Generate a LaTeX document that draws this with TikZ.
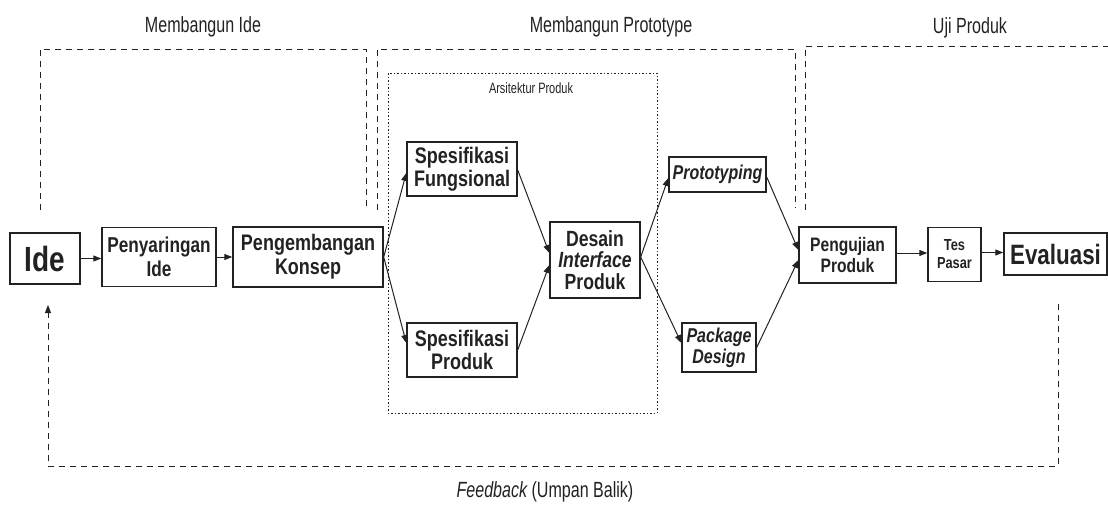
\documentclass[tikz,border=0pt]{standalone}
\usepackage{fontspec}
\setmainfont{Liberation Sans}
\newfontfamily\boxfont[FakeStretch=0.8]{Liberation Sans}
\newfontfamily\hdrfont[FakeStretch=0.73]{Liberation Sans}
\usetikzlibrary{arrows.meta}
\definecolor{ink}{HTML}{222222}
\begin{document}
\begin{tikzpicture}[x=1pt,y=-1pt,
  box/.style={draw=ink, line width=1.4pt, inner sep=0pt, align=center, text=ink},
  tip/.style={-{Triangle[length=8pt,width=6pt]}},
  conn/.style={draw=ink, line width=1pt, tip},
  dashline/.style={draw=ink, line width=0.9pt, dash pattern=on 6pt off 5pt},
  dotline/.style={draw=ink, line width=0.9pt, dash pattern=on 1.5pt off 2pt},
  hdr/.style={text=ink, font=\hdrfont\fontsize{22}{26}\selectfont, inner sep=0pt, anchor=base}]
\useasboundingbox (0,0) rectangle (1108,506);

% headers
\node[hdr] (h1) at (203,32) {Membangun Ide};
\node[hdr] (h2) at (611,32) {Membangun Prototype};
\node[hdr] (h3) at (970,33) {Uji Produk};
\node[hdr] (fbl) at (545,497) {\itshape Feedback\upshape{} (Umpan Balik)};

% dashed brackets
\draw[dashline] (40,210) -- (40,49) -- (366,49) -- (366,208);
\draw[dashline] (377,210) -- (377,49) -- (795,49) -- (795,208);
\draw[dashline] (805,210) -- (805,46) -- (1108,46);

% dotted architecture box
\draw[dotline] (388,73) rectangle (657,413);
\node[text=ink, font=\hdrfont\fontsize{15}{18}\selectfont, inner sep=0pt, anchor=base] (arl) at (531,93) {Arsitektur Produk};

% boxes
\node[box, minimum width=70pt, minimum height=51pt, font=\boxfont\bfseries\fontsize{35}{38}\selectfont] (ide) at (45,258.5) {Ide};
\node[box, minimum width=114pt, minimum height=59pt, font=\boxfont\bfseries\fontsize{21.5}{24}\selectfont] (peny) at (159,257) {Penyaringan\\Ide};
\node[box, minimum width=150pt, minimum height=60pt, font=\boxfont\bfseries\fontsize{22.5}{24}\selectfont] (peng) at (308,257) {Pengembangan\\Konsep};
\node[box, minimum width=110pt, minimum height=54pt, font=\boxfont\bfseries\fontsize{22.5}{22.5}\selectfont] (sf) at (462,169) {Spesifikasi\\Fungsional};
\node[box, minimum width=110pt, minimum height=54pt, font=\boxfont\bfseries\fontsize{22.5}{22.5}\selectfont] (sp) at (462,350) {Spesifikasi\\Produk};
\node[box, minimum width=90pt, minimum height=76pt, font=\boxfont\bfseries\fontsize{22}{21.5}\selectfont] (dip) at (595,260) {Desain\\\itshape Interface\\Produk};
\node[box, minimum width=97pt, minimum height=35pt, font=\boxfont\bfseries\itshape\fontsize{20}{22}\selectfont] (proto) at (717.5,174.5) {Prototyping};
\node[box, minimum width=74pt, minimum height=49pt, font=\boxfont\bfseries\itshape\fontsize{20}{21}\selectfont] (pack) at (719,347.5) {Package\\Design};
\node[box, minimum width=97pt, minimum height=56pt, font=\boxfont\bfseries\fontsize{19.5}{21}\selectfont] (uji) at (847.5,255) {Pengujian\\Produk};
\node[box, minimum width=53pt, minimum height=54pt, font=\boxfont\bfseries\fontsize{16}{18}\selectfont] (tes) at (954.5,254.5) {Tes\\Pasar};
\node[box, minimum width=103pt, minimum height=42pt, font=\boxfont\bfseries\fontsize{28}{30}\selectfont] (eval) at (1055.5,254) {Evaluasi};

% connectors
\draw[conn] (ide.east) -- (ide.east -| peny.west);
\draw[conn] (peny.east) -- (peny.east -| peng.west);
\draw[conn] (peng.east) -- ([yshift=-4pt]sf.west);
\draw[conn] (peng.east) -- ([yshift=7pt]sp.west);
\draw[conn] ([yshift=-1pt]sf.east) -- ([yshift=7pt]dip.west);
\draw[conn] (sp.east) -- ([yshift=-5pt]dip.west);
\draw[conn] ([yshift=3pt]dip.east) -- ([yshift=-3.5pt]proto.west);
\draw[conn] ([yshift=3pt]dip.east) -- ([yshift=4.5pt]pack.west);
\draw[conn] ([yshift=-2.5pt]proto.east) -- ([yshift=5pt]uji.west);
\draw[conn] (pack.east) -- ([yshift=-5pt]uji.west);
\draw[conn] ([yshift=2pt]uji.east) -- ([yshift=2pt]uji.east -| tes.west);
\draw[conn] ([yshift=2pt]tes.east) -- ([yshift=2pt]tes.east -| eval.west);

% feedback loop
\coordinate (fbs) at (1058,304);
\coordinate (fbe) at (48,305);
\draw[dashline, tip] (fbs) -- (1058,466) -- (48,466) -- (fbe);
\end{tikzpicture}
\end{document}
